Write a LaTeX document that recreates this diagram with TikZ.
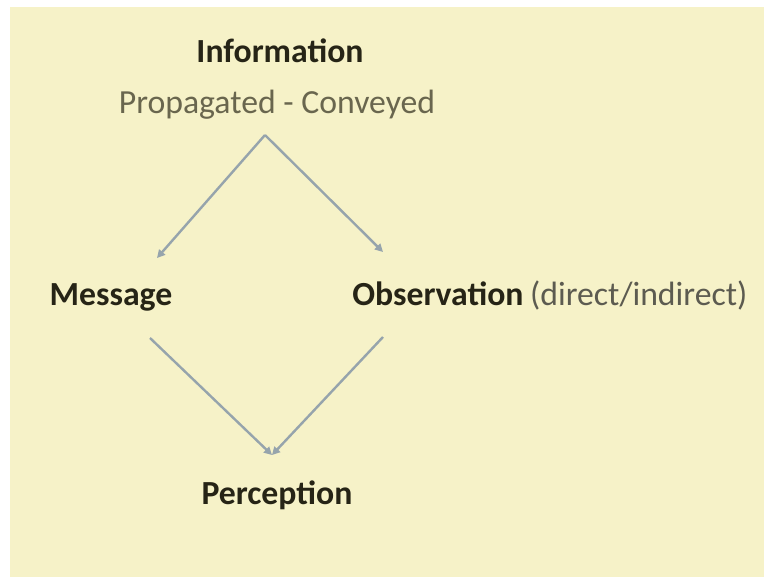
\documentclass[tikz,border=0pt]{standalone}
\usepackage{fontspec}
\setmainfont{Carlito}
\usetikzlibrary{arrows.meta}

\definecolor{paperYellow}{RGB}{246,242,200}
\definecolor{inkDark}{RGB}{38,36,22}
\definecolor{inkGray}{RGB}{105,102,78}
\definecolor{linkBlue}{RGB}{150,164,172}

\tikzstyle{termMain} = [text = inkDark,
                        font = \fontsize{24}{28}\selectfont\bfseries,
                        inner sep = 0pt,
                        anchor = base
                        ]
\tikzstyle{termMinor} = [text = inkGray,
                         font = \fontsize{24}{28}\selectfont,
                         inner sep = 0pt,
                         anchor = base
                         ]
\tikzstyle{linkArrow} = [draw = linkBlue,
                         line width = 0.6mm,
                         -{Triangle[length = 2mm, width = 2mm]}
                         ]

\begin{document}
\begin{tikzpicture}

    %%% Canvas
    \useasboundingbox (0, 0) rectangle (19.1, -14.425);
    \fill[white] (0, 0) rectangle (19.1, -14.425);
    \fill[paperYellow] (0.25, -0.175) rectangle (19.1, -14.425);

    %%% Terms
    % Information %
    \node (Inf) at (7.0, -1.55) [termMain]{Information};
    \node (InfM) at (6.925, -2.825) [termMinor]{Propagated - Conveyed};

    % Channels %
    \node (Msg) at (2.775, -7.625) [termMain]{Message};
    \node (Obs) at (8.8, -7.625) [termMain, anchor = base west]{Observation};
    \node (ObsM) [termMinor, anchor = base west, text = inkDark!75]
        at ([xshift = 0.15cm]Obs.base east){(direct/indirect)};

    % Perception %
    \node (Per) at (6.925, -12.6) [termMain]{Perception};

    %%% Links
    \coordinate (InfOut) at (6.625, -3.375);
    \coordinate (MsgIn) at (3.925, -6.45);
    \coordinate (ObsIn) at (9.575, -6.3);
    \coordinate (MsgOut) at (3.75, -8.45);
    \coordinate (ObsOut) at (9.575, -8.425);
    \coordinate (PerIn) at (6.8, -11.375);

        % Information to channels
        \draw[linkArrow] (InfOut) -- (MsgIn);
        \draw[linkArrow] (InfOut) -- (ObsIn);

        % Channels to perception
        \draw[linkArrow] (MsgOut) -- (PerIn);
        \draw[linkArrow] (ObsOut) -- (PerIn);

\end{tikzpicture}
\end{document}
